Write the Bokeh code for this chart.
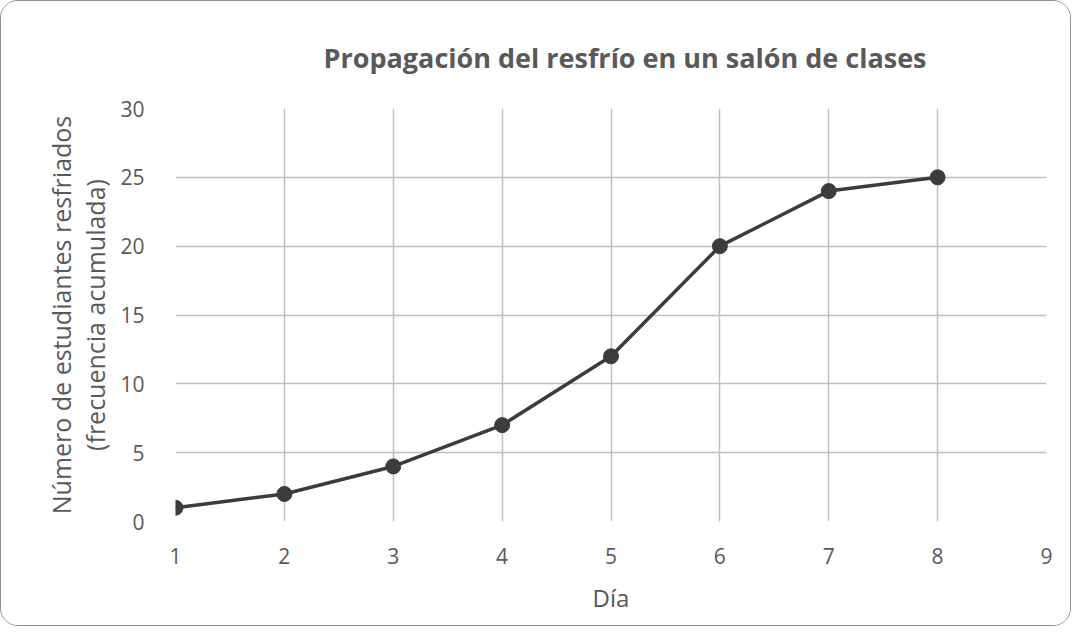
from bokeh.plotting import figure
from bokeh.models import FixedTicker, Range1d
from bokeh.embed import file_html
from bokeh.resources import INLINE

dias = [1, 2, 3, 4, 5, 6, 7, 8]
resfriados = [1, 2, 4, 7, 12, 20, 24, 25]
x_ticks = [1, 2, 3, 4, 5, 6, 7, 8, 9]
y_ticks = [0, 5, 10, 15, 20, 25, 30]

FONT = "Open Sans"
TXT = "#595959"
GRID = "#bfbfbf"
LINE = "#3c3c3c"

p = figure(width=1071, height=626, output_backend="svg", toolbar_location=None,
           x_range=Range1d(1, 9), y_range=Range1d(0, 30),
           min_border_left=174, min_border_right=26, min_border_top=107, min_border_bottom=106)

p.title.text = "Propagación del resfrío en un salón de clases"
p.title.text_font = FONT
p.title.text_font_size = "27px"
p.title.text_font_style = "bold"
p.title.text_color = TXT
p.title.align = "left"
p.title.offset = 148
p.title.standoff = 66

p.outline_line_color = None
p.background_fill_color = "white"
p.border_fill_color = "white"
p.styles = {"border": "1px solid #8c8c8c", "border-radius": "18px", "overflow": "hidden",
            "box-sizing": "border-box"}

for ax in (p.xaxis[0], p.yaxis[0]):
    ax.axis_line_color = None
    ax.major_tick_line_color = None
    ax.minor_tick_line_color = None
    ax.major_label_text_font = FONT
    ax.major_label_text_font_size = "21px"
    ax.major_label_text_color = TXT
    ax.axis_label_text_font = FONT
    ax.axis_label_text_font_size = "24px"
    ax.axis_label_text_font_style = "normal"
    ax.axis_label_text_color = TXT

p.xaxis.ticker = FixedTicker(ticks=x_ticks)
p.yaxis.ticker = FixedTicker(ticks=y_ticks)
p.xaxis.axis_label = "Día"
p.yaxis.axis_label = "Número de estudiantes resfriados\n(frecuencia acumulada)"
p.yaxis.axis_label_text_font_size = "25px"
p.yaxis.axis_label_text_line_height = 1.0
p.xaxis.major_label_standoff = 20
p.yaxis.major_label_standoff = 25
p.xaxis.axis_label_standoff = 14
p.yaxis.axis_label_standoff = 5

p.xgrid.grid_line_color = GRID
p.ygrid.grid_line_color = GRID
p.xgrid.grid_line_width = 1.5
p.ygrid.grid_line_width = 1.5

p.line(dias, resfriados, line_color=LINE, line_width=3.5, line_join="round")
p.scatter(dias, resfriados, size=15, fill_color=LINE, line_color=LINE)

open("out.html", "w").write(file_html(p, INLINE))
